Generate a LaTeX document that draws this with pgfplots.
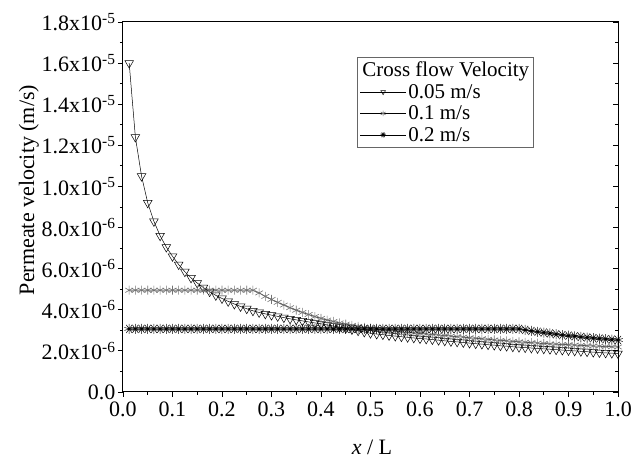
\documentclass[border=0pt]{standalone}
\usepackage{fontspec}
\setmainfont{Liberation Serif}
\usepackage{pgfplots}
\pgfplotsset{compat=1.18}
\usepackage{pgfplotstable}
\usetikzlibrary{plotmarks}

\pgfplotstableread{
x      va       vb       vc
0.0125 16.0e-6  4.95e-6  3.07e-6
0.025  12.4e-6  4.95e-6  3.07e-6
0.0375 10.5e-6  4.95e-6  3.07e-6
0.05   9.2e-6   4.95e-6  3.07e-6
0.0625 8.3e-6   4.95e-6  3.07e-6
0.075  7.6e-6   4.95e-6  3.07e-6
0.0875 7.05e-6  4.95e-6  3.07e-6
0.1    6.6e-6   4.95e-6  3.07e-6
0.1125 6.2e-6   4.95e-6  3.07e-6
0.125  5.85e-6  4.95e-6  3.07e-6
0.1375 5.55e-6  4.95e-6  3.07e-6
0.15   5.3e-6   4.95e-6  3.07e-6
0.1625 5.08e-6  4.95e-6  3.07e-6
0.175  4.88e-6  4.95e-6  3.07e-6
0.1875 4.7e-6   4.95e-6  3.07e-6
0.2    4.55e-6  4.95e-6  3.07e-6
0.2125 4.41e-6  4.95e-6  3.07e-6
0.225  4.28e-6  4.95e-6  3.07e-6
0.2375 4.16e-6  4.95e-6  3.07e-6
0.25   4.05e-6  4.95e-6  3.07e-6
0.2625 3.95e-6  4.95e-6  3.07e-6
0.275  3.87e-6  4.82e-6  3.07e-6
0.2875 3.8e-6   4.65e-6  3.07e-6
0.3    3.74e-6  4.5e-6   3.07e-6
0.3125 3.68e-6  4.36e-6  3.07e-6
0.325  3.62e-6  4.23e-6  3.07e-6
0.3375 3.56e-6  4.1e-6   3.07e-6
0.35   3.51e-6  3.98e-6  3.07e-6
0.3625 3.46e-6  3.87e-6  3.07e-6
0.375  3.41e-6  3.77e-6  3.07e-6
0.3875 3.36e-6  3.67e-6  3.07e-6
0.4    3.32e-6  3.58e-6  3.07e-6
0.4125 3.26e-6  3.5e-6   3.07e-6
0.425  3.21e-6  3.43e-6  3.07e-6
0.4375 3.15e-6  3.36e-6  3.07e-6
0.45   3.1e-6   3.3e-6   3.07e-6
0.4625 3.04e-6  3.24e-6  3.07e-6
0.475  2.98e-6  3.19e-6  3.07e-6
0.4875 2.92e-6  3.14e-6  3.07e-6
0.5    2.86e-6  3.09e-6  3.07e-6
0.5125 2.82e-6  3.05e-6  3.07e-6
0.525  2.79e-6  3.02e-6  3.07e-6
0.5375 2.75e-6  2.99e-6  3.07e-6
0.55   2.72e-6  2.96e-6  3.07e-6
0.5625 2.69e-6  2.93e-6  3.07e-6
0.575  2.66e-6  2.9e-6   3.07e-6
0.5875 2.63e-6  2.87e-6  3.07e-6
0.6    2.6e-6   2.85e-6  3.07e-6
0.6125 2.58e-6  2.82e-6  3.07e-6
0.625  2.55e-6  2.8e-6   3.07e-6
0.6375 2.52e-6  2.77e-6  3.07e-6
0.65   2.49e-6  2.75e-6  3.07e-6
0.6625 2.46e-6  2.72e-6  3.07e-6
0.675  2.44e-6  2.69e-6  3.07e-6
0.6875 2.41e-6  2.67e-6  3.07e-6
0.7    2.38e-6  2.64e-6  3.07e-6
0.7125 2.35e-6  2.61e-6  3.07e-6
0.725  2.33e-6  2.59e-6  3.07e-6
0.7375 2.3e-6   2.56e-6  3.07e-6
0.75   2.28e-6  2.53e-6  3.07e-6
0.7625 2.25e-6  2.51e-6  3.07e-6
0.775  2.23e-6  2.49e-6  3.07e-6
0.7875 2.2e-6   2.46e-6  3.07e-6
0.8    2.18e-6  2.44e-6  3.07e-6
0.8125 2.16e-6  2.42e-6  3.02e-6
0.825  2.14e-6  2.4e-6   2.97e-6
0.8375 2.12e-6  2.38e-6  2.93e-6
0.85   2.1e-6   2.36e-6  2.89e-6
0.8625 2.08e-6  2.34e-6  2.85e-6
0.875  2.06e-6  2.33e-6  2.81e-6
0.8875 2.04e-6  2.31e-6  2.77e-6
0.9    2.02e-6  2.3e-6   2.74e-6
0.9125 2.0e-6   2.28e-6  2.71e-6
0.925  1.98e-6  2.27e-6  2.68e-6
0.9375 1.96e-6  2.25e-6  2.65e-6
0.95   1.94e-6  2.24e-6  2.62e-6
0.9625 1.92e-6  2.23e-6  2.6e-6
0.975  1.9e-6   2.21e-6  2.57e-6
0.9875 1.89e-6  2.2e-6   2.55e-6
1.0    1.87e-6  2.19e-6  2.53e-6
}\datatab

\begin{document}
\begin{tikzpicture}
\begin{axis}[
  scale only axis, width=495pt, height=370pt,
  xmin=0, xmax=1, ymin=0, ymax=1.8e-5,
  scaled x ticks=false, scaled y ticks=false,
  xtick={0,0.1,0.2,0.3,0.4,0.5,0.6,0.7,0.8,0.9,1.0},
  xticklabels={0.0,0.1,0.2,0.3,0.4,0.5,0.6,0.7,0.8,0.9,1.0},
  ytick={0,2e-6,4e-6,6e-6,8e-6,1e-5,1.2e-5,1.4e-5,1.6e-5,1.8e-5},
  yticklabels={0.0,
    2.0x10\textsuperscript{-6},4.0x10\textsuperscript{-6},6.0x10\textsuperscript{-6},
    8.0x10\textsuperscript{-6},1.0x10\textsuperscript{-5},1.2x10\textsuperscript{-5},
    1.4x10\textsuperscript{-5},1.6x10\textsuperscript{-5},1.8x10\textsuperscript{-5}},
  minor x tick num=1, minor y tick num=1,
  xtick pos=bottom, ytick pos=left, tick align=outside,
  major tick length=5pt, minor tick length=3pt,
  axis line style={line width=1pt},
  every tick/.style={black, line width=0.8pt},
  ticklabel style={font=\fontsize{22}{26}\selectfont},
  yticklabel style={xshift=1pt},
  xticklabel style={yshift=-1pt},
  xlabel={\textit{x} / L},
  ylabel={Permeate velocity (m/s)},
  label style={font=\fontsize{22}{26}\selectfont},
  xlabel style={at={(axis description cs:0.503,-0.149)}, anchor=center},
  ylabel style={at={(axis description cs:-0.19,0.546)}, anchor=center},
  legend cell align=left,
  legend style={at={(0.473,0.905)}, anchor=north west, draw=black!60,
    line width=0.5pt, font=\fontsize{21}{24}\selectfont,
    inner sep=2.5pt, row sep=2pt},
  legend image code/.code={\draw[mark repeat=2,mark phase=2,#1,mark size=2.8pt]
      plot coordinates {(0pt,0pt) (23pt,0pt) (46pt,0pt)};},
]
\coordinate (o) at (rel axis cs:0,0);
\addlegendimage{empty legend}
\addlegendentry{\hspace*{-46pt}Cross flow Velocity}

\addplot[black, line width=0.5pt, mark=triangle, mark size=5pt,
  mark options={rotate=180, fill=white, line width=0.5pt}]
  table[x=x, y=va] {\datatab};
\addlegendentry{0.05 m/s}

\addplot[black, line width=0.5pt, mark=asterisk, mark size=4.5pt,
  mark options={black!55, line width=0.6pt}]
  table[x=x, y=vb] {\datatab};
\addlegendentry{0.1 m/s}

\addplot[black, line width=0.5pt, mark=10-pointed star, mark size=5pt,
  mark options={fill=black}]
  table[x=x, y=vc] {\datatab};
\addlegendentry{0.2 m/s}
\end{axis}
\begin{axis}[
  scale only axis, width=495pt, height=370pt,
  xmin=0, xmax=1, ymin=0, ymax=1.8e-5,
  scaled y ticks=false,
  hide x axis, axis y line*=right,
  ytick={0,2e-6,4e-6,6e-6,8e-6,1e-5,1.2e-5,1.4e-5,1.6e-5,1.8e-5},
  yticklabels={}, minor y tick num=1,
  tick align=inside, major tick length=5pt, minor tick length=3pt,
  axis line style={line width=1pt},
  every tick/.style={black, line width=0.8pt},
]
\end{axis}
\path (o) ++(-123pt,-65pt) rectangle ++(638pt,457pt);
\end{tikzpicture}
\end{document}
